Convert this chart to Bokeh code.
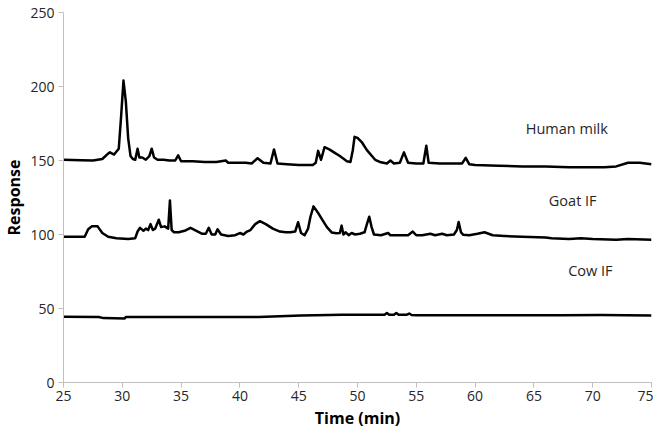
from bokeh.plotting import figure
from bokeh.models import Range1d, FixedTicker, ColumnDataSource, Label
from bokeh.embed import file_html
from bokeh.resources import INLINE

# Time (min) / response for each trace
human_t = [25, 26.5, 27.5, 28.3, 28.7, 28.95, 29.3, 29.7, 29.9, 30.1, 30.3, 30.5, 30.7, 30.9,
           31.1, 31.3, 31.45, 31.7, 32.0, 32.3, 32.5, 32.7, 33.0, 33.5, 34.0, 34.5, 34.75, 35.0,
           36, 37, 38, 38.8, 39, 40, 40.5, 41, 41.5, 42, 42.6, 42.9, 43.2, 44, 45, 46.2,
           46.45, 46.65, 46.9, 47.2, 47.6, 48.0, 48.5, 49.1, 49.4, 49.6, 49.75, 50.0, 50.4,
           50.8, 51.5, 51.9, 52.5, 52.8, 53.1, 53.6, 53.95, 54.3, 55.0, 55.6, 55.85, 56.05, 57, 58,
           58.9, 59.2, 59.5, 60, 62, 64, 66, 68, 70, 71, 72, 73, 74, 75]
human_y = [150.5, 150.2, 150, 151, 154, 155.5, 154, 158, 180, 204, 190, 165, 153, 151,
           150.5, 158, 152, 152, 150.5, 153, 158, 152, 150.5, 150.5, 150, 150, 153.5, 149.5,
           149.5, 149, 149, 150, 148.5, 148.5, 148.5, 148, 151.5, 148.5, 148, 157.5, 148, 147.5, 147, 147,
           148.5, 156.5, 150.5, 159, 157.5, 155.5, 153, 149.5, 149, 157, 166, 165.3, 162,
           157, 150.5, 149, 148, 150, 148, 148.5, 155.5, 148.5, 148, 148, 160, 148.5, 148, 148,
           148, 151.8, 147.5, 147, 146.5, 146, 146, 145.5, 145.5, 145.5, 146, 148.5, 148.5, 147.5]

goat_t = [25, 26.8, 27.1, 27.4, 27.9, 28.3, 28.8, 29.5, 30.5, 31.1, 31.3, 31.5, 31.8, 32.0, 32.2,
          32.4, 32.6, 32.8, 33.1, 33.3, 33.6, 33.9, 34.05, 34.2, 34.4, 34.8, 35.3, 35.8, 36.3,
          36.8, 37.1, 37.35, 37.6, 37.9, 38.1, 38.4, 39, 39.6, 40.0, 40.3, 40.6, 40.9, 41.3,
          41.7, 42.2, 42.8, 43.4, 43.9, 44.3, 44.7, 44.95, 45.2, 45.5, 45.8, 46.0, 46.26, 46.7,
          47.0, 47.4, 47.8, 48.2, 48.5, 48.65, 48.8, 49.0, 49.25, 49.5, 49.8, 50.2, 50.6,
          50.8, 51.0, 51.2, 51.4, 52, 52.6, 52.8, 53.5, 54.3, 54.7, 55.0, 55.5, 56.2, 56.6,
          57.2, 57.6, 58.2, 58.45, 58.6, 58.8, 59.0, 59.5, 60.2, 60.8, 61.5, 62.5, 64, 66,
          66.5, 68, 69, 70, 72, 73, 75]
goat_y = [98.5, 98.5, 103.5, 105.5, 105.5, 101, 98.5, 97.5, 97, 97.5, 102, 104.5, 102.5, 104, 103,
          107, 103, 104, 110, 105, 105.5, 104, 123, 103, 101.5, 101.5, 102.5, 104.5, 102.5,
          100.5, 100.5, 104.5, 100, 100, 103.5, 100, 99, 99.5, 101, 100, 102, 103, 107,
          109, 107, 104, 102, 101.5, 101.5, 102, 108.3, 101, 99.5, 104, 112, 119, 114,
          110, 105, 101.4, 100.8, 101, 106, 100, 101.5, 99.5, 101, 100, 100.5, 101.5,
          107, 112, 105, 100, 99.5, 101, 99.5, 99.5, 99.5, 102, 99.5, 99.5, 100.5, 99.5,
          100.5, 99.5, 100, 103, 108.5, 101.5, 99.8, 99.5, 100.5, 101.5, 99.5, 99, 98.5, 98,
          97.5, 97, 97.5, 97, 96.5, 97, 96.5]

cow_t = [25, 28.0, 28.4, 30.2, 30.3, 35, 40, 41.6, 45.2, 48.7, 52.3, 52.5, 52.7, 53.1, 53.3,
         53.5, 54.2, 54.4, 54.6, 55, 61, 67.4, 70.7, 75]
cow_y = [44.5, 44.3, 43.5, 43.3, 44.3, 44.3, 44.2, 44.2, 45.2, 45.8, 45.8, 47, 45.8, 45.8, 47,
         45.8, 45.8, 46.6, 45.6, 45.4, 45.4, 45.4, 45.6, 45.2]

x_ticks = [25, 30, 35, 40, 45, 50, 55, 60, 65, 70, 75]
y_ticks = [0, 50, 100, 150, 200, 250]

trace_names = ["Human milk", "Goat IF", "Cow IF"]
label_x = [67.8, 68.3, 69.8]
label_y = [171.5, 123, 75.5]

FONT = "Open Sans"
AXIS_GRAY = "#bfbfbf"
TEXT = "#262626"

p = figure(width=653, height=433, output_backend="svg", toolbar_location=None,
           x_range=Range1d(25, 75), y_range=Range1d(0, 250),
           min_border_left=55, min_border_right=2, min_border_top=12, min_border_bottom=51)
p.outline_line_color = None
p.xgrid.grid_line_color = None
p.ygrid.grid_line_color = None

for t, y in [(human_t, human_y), (goat_t, goat_y), (cow_t, cow_y)]:
    src = ColumnDataSource(dict(t=t, y=y))
    p.line("t", "y", source=src, line_color="black", line_width=2.5, line_join="round")

for name, lx, ly in zip(trace_names, label_x, label_y):
    p.add_layout(Label(x=lx, y=ly, text=name, text_align="center", text_baseline="middle",
                       text_font=FONT, text_font_size="14.5px", text_color=TEXT))

p.xaxis.ticker = FixedTicker(ticks=x_ticks)
p.yaxis.ticker = FixedTicker(ticks=y_ticks)
for ax in (p.xaxis[0], p.yaxis[0]):
    ax.axis_line_color = AXIS_GRAY
    ax.axis_line_width = 1
    ax.major_tick_line_color = AXIS_GRAY
    ax.major_tick_out = 5
    ax.major_tick_in = 0
    ax.minor_tick_line_color = None
    ax.major_label_text_font = FONT
    ax.major_label_text_font_size = "14px"
    ax.major_label_text_color = TEXT
    ax.axis_label_text_font = FONT
    ax.axis_label_text_font_size = "16px"
    ax.axis_label_text_font_style = "bold"
    ax.axis_label_text_color = "black"

p.xaxis.axis_label = "Time (min)"
p.yaxis.axis_label = "Response"
p.xaxis.major_label_standoff = 3
p.xaxis.axis_label_standoff = 3
p.yaxis.major_label_standoff = 4
p.yaxis.axis_label_standoff = 2

open("out.html", "w").write(file_html(p, INLINE))
